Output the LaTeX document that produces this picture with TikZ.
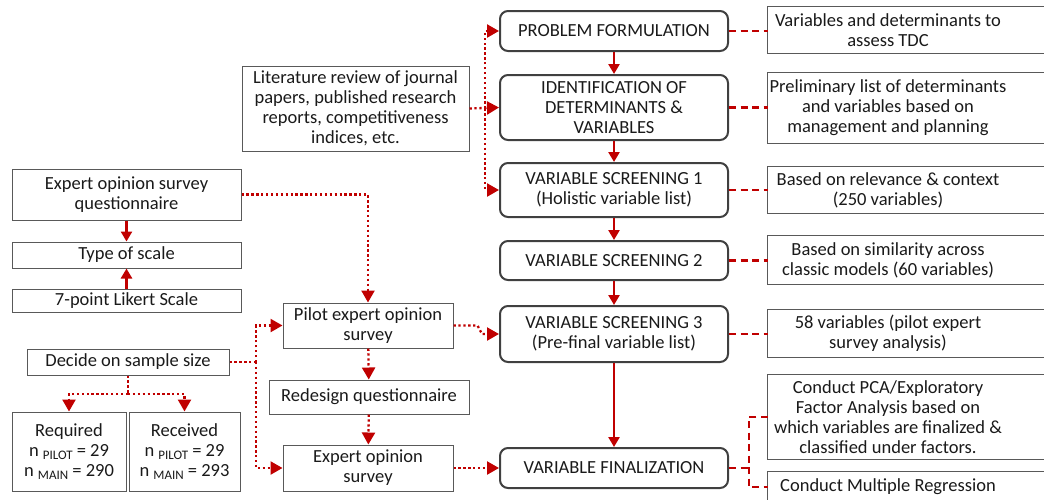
\documentclass[tikz,border=0pt]{standalone}
\usepackage{fontspec}
\setmainfont{Carlito}
\usetikzlibrary{arrows.meta}
\definecolor{myred}{HTML}{C00000}
\definecolor{boxgray}{HTML}{595959}
\definecolor{mainbd}{HTML}{404040}
\definecolor{txt}{HTML}{1A1A1A}
\newcommand{\sbs}[1]{\raisebox{-3pt}{\fontsize{13}{13}\selectfont #1}}
\begin{document}
\begin{tikzpicture}[x=1pt,y=-1pt,
  every node/.style={font=\fontsize{18.5}{20}\selectfont, align=center, inner sep=0pt, text=txt},
  rbox/.style={draw=boxgray, line width=1pt},
  mbox/.style={draw=mainbd, line width=2pt, rounded corners=8pt, minimum width=228pt},
  solidarr/.style={myred, line width=2.5pt, -{Triangle[length=10pt,width=11pt]}},
  dotline/.style={myred, line width=2.3pt, dash pattern=on 2.3pt off 2.6pt},
  dotarr/.style={dotline, -{Triangle[length=12pt,width=13pt]}},
  dashline/.style={myred, line width=2.5pt, dash pattern=on 7pt off 4.5pt},
]
\useasboundingbox (0,0) rectangle (1044,499);
\clip (0,0) rectangle (1044,499);
\fill[white] (0,0) rectangle (1044,499);

% main column
\node[mbox, minimum height=40pt] (pf) at (614,31) {PROBLEM FORMULATION};
\node[mbox, minimum height=65pt] (id) at (614,107.5) {IDENTIFICATION OF\\DETERMINANTS \&\\VARIABLES};
\node[mbox, minimum height=54pt] (vs1) at (614,190) {VARIABLE SCREENING 1\\(Holistic variable list)};
\node[mbox, minimum height=39pt] (vs2) at (614,260.5) {VARIABLE SCREENING 2};
\node[mbox, minimum height=56pt] (vs3) at (614,334) {VARIABLE SCREENING 3\\(Pre-final variable list)};
\node[mbox, minimum height=40pt] (vf) at (614,468) {VARIABLE FINALIZATION};

% right column
\node[minimum width=240pt, minimum height=46pt] (r1) at (888,30) {Variables and determinants to\\assess TDC};
\node[minimum width=240pt, minimum height=70pt] (r2) at (888,108) {Preliminary list of determinants\\and variables based on\\management and planning};
\node[minimum width=240pt, minimum height=46pt] (r3) at (888,190) {Based on relevance \& context\\(250 variables)};
\node[minimum width=240pt, minimum height=48pt] (r4) at (888,260) {Based on similarity across\\classic models (60 variables)};
\node[minimum width=240pt, minimum height=47pt] (r5) at (888,333.5) {58 variables (pilot expert\\survey analysis)};
\node[minimum width=240pt, minimum height=84pt] (r6) at (888,417) {Conduct PCA/Exploratory\\Factor Analysis based on\\which variables are finalized \&\\classified under factors.};
\node[minimum width=240pt, minimum height=30pt] (r7) at (888,487) {Conduct Multiple Regression};
\foreach \r in {r1,r2,r3,r4,r5,r6,r7}
  \draw[rbox] (\r.north west) rectangle ([xshift=80pt]\r.south east);

% left side
\node[rbox, minimum width=227pt, minimum height=85pt] (lit) at (355.5,108.5) {Literature review of journal\\papers, published research\\reports, competitiveness\\indices, etc.};
\node[rbox, minimum width=229pt, minimum height=51pt] (q) at (126.5,194.5) {Expert opinion survey\\questionnaire};
\node[rbox, minimum width=229pt, minimum height=26pt] (ts) at (126.5,255) {Type of scale};
\node[rbox, minimum width=229pt, minimum height=23pt] (lk) at (126.5,300.5) {7-point Likert Scale};
\node[rbox, minimum width=202pt, minimum height=26pt] (ss) at (128,362) {Decide on sample size};
\node[rbox, minimum width=114pt, minimum height=79pt] (req) at (69,451.5) {Required\\n \sbs{PILOT} = 29\\n \sbs{MAIN} = 290};
\node[rbox, minimum width=111pt, minimum height=79pt] (rec) at (184.5,451.5) {Received\\n \sbs{PILOT} = 29\\n \sbs{MAIN} = 293};
\node[rbox, minimum width=170pt, minimum height=45pt] (pil) at (368,325.5) {Pilot expert opinion\\survey};
\node[rbox, minimum width=200pt, minimum height=34pt] (red) at (369,397) {Redesign questionnaire};
\node[rbox, minimum width=170pt, minimum height=46pt] (eos) at (368,468) {Expert opinion\\survey};

% main chain
\draw[solidarr] (pf) -- (id);
\draw[solidarr] (id) -- (vs1);
\draw[solidarr] (vs1) -- (vs2);
\draw[solidarr] (vs2) -- (vs3);
\draw[solidarr] (vs3) -- (vf);

% dashed to right
\foreach \m/\r in {pf/r1,id/r2,vs1/r3,vs2/r4,vs3/r5}
  \draw[dashline] (\m.east) -- (\m.east -| \r.west);
\coordinate (vfj) at ([xshift=20pt]vf.east);
\draw[dashline] (vf.east) -- (vfj);
\draw[dashline] (r6.west) -| (vfj) |- (r7.west);

% literature bus
\coordinate (lb) at (485,108.5);
\draw[dotarr] (lit.east) -- (id.west);
\draw[dotarr] (lb) |- (pf.west);
\draw[dotarr] (lb) |- (vs1.west);

% questionnaire
\draw[solidarr] (q.south) -- (ts.north);
\draw[solidarr] (lk.north) -- (ts.south);
\draw[dotarr] (q.east) -| (pil.north);

% sample size
\coordinate (sb) at (256,362);
\draw[dotline] (ss.east) -- (sb);
\draw[dotarr] (sb) |- (pil.west);
\draw[dotarr] (sb) |- (eos.west);
\coordinate (sd) at (128,394);
\draw[dotline] (ss.south) -- (sd);
\draw[dotarr] (sd) -| (req.north);
\draw[dotarr] (sd) -| (rec.north);

% pilot flow
\draw[dotarr] (pil) -- (red);
\draw[dotarr] (red) -- (eos);
\draw[dotarr] (pil.east) -- ++(24pt,0) -- ([xshift=-17pt]vs3.west) -- (vs3.west);
\draw[dotarr] (eos.east) -- (vf.west);
\end{tikzpicture}
\end{document}
